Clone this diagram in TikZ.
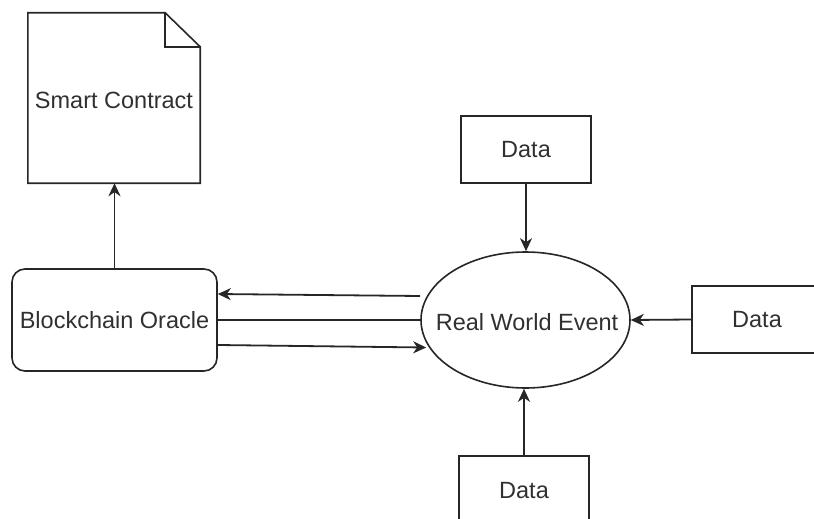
\documentclass[tikz,border=0pt]{standalone}
\usepackage{fontspec}
\setmainfont{Liberation Sans}
\usetikzlibrary{shapes.geometric,arrows.meta,calc}
\definecolor{ink}{HTML}{262626}
\definecolor{txt}{HTML}{303030}
\begin{document}
\begin{tikzpicture}[x=1pt,y=-1pt,
  every node/.style={font=\fontsize{23.5}{28}\selectfont, text=txt, inner sep=0pt},
  box/.style={draw=ink, line width=1.6pt, minimum width=130pt, minimum height=67pt},
  oraclebox/.style={draw=ink, line width=1.6pt, rounded corners=13pt, minimum width=205pt, minimum height=102pt},
  eventshape/.style={draw=ink, line width=1.6pt, ellipse, minimum width=209pt, minimum height=136pt},
  conn/.style={draw=ink, line width=1.8pt},
  arr/.style={conn, -{Stealth[length=13pt, width=12pt, inset=4pt]}}]
  \useasboundingbox (0,0) rectangle (814,519);
  \clip (0,0) rectangle (814,519);

  % smart contract as a document with a folded corner
  \node (sc) [minimum width=172pt, minimum height=170pt] at (114,98) {};
  \node at (114,100) {Smart Contract};
  \draw[draw=ink, line width=1.6pt, line join=miter]
    (sc.north west) -- ($(sc.north east)+(-35,0)$) -- ($(sc.north east)+(0,34)$)
    -- (sc.south east) -- (sc.south west) -- cycle;
  \draw[draw=ink, line width=1.6pt] ($(sc.north east)+(-35,0)$) -- ($(sc.north east)+(-35,34)$) -- ($(sc.north east)+(0,34)$);

  % oracle and the event it watches
  \node (oracle) [oraclebox] at (114.5,320) {Blockchain Oracle};
  \node (ev) [eventshape] at (525.5,320) {};
  \node at (527,322) {Real World Event};

  % data sources
  \node (dtop) [box] at (526,149.5) {Data};
  \node (dright) [box] at (757,319.5) {Data};
  \node (dbottom) [box] at (524,489.5) {};
  \node at (524,491) {Data};

  % connectors
  \draw[arr] (oracle.north) -- (oracle.north |- sc.south);
  \draw[arr] (dtop.south) -- (dtop.south |- ev.north);
  \draw[arr] (dright.west) -- (ev.east);
  \draw[arr] (dbottom.north) -- (dbottom.north |- ev.south);

  \draw[arr] ([yshift=24pt]ev.west) -- ([yshift=26pt]oracle.east);
  \draw[conn] (oracle.east) -- (ev.west);
  \draw[arr] ([yshift=-25pt]oracle.east) -- ([xshift=6pt,yshift=-27.5pt]ev.west);
\end{tikzpicture}
\end{document}
